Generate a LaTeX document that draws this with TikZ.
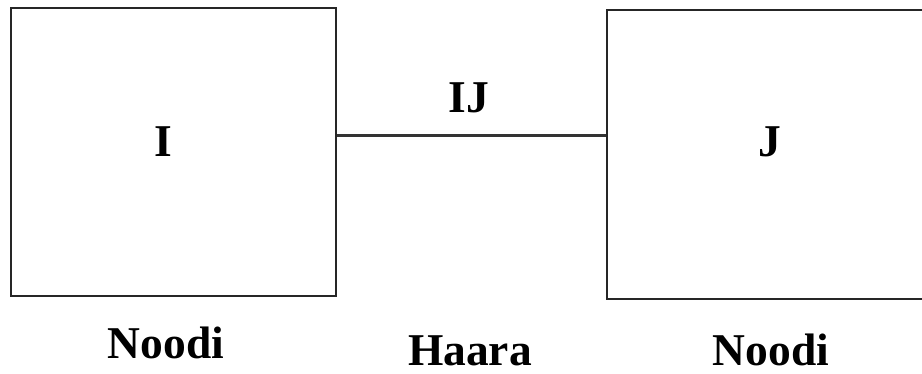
\documentclass[tikz,border=0pt]{standalone}
\usepackage{fontspec}
\setmainfont{Liberation Serif}
\begin{document}
\begin{tikzpicture}[x=1pt,y=-1pt,
  box/.style={draw=black!85, line width=2.4pt, inner sep=0pt, fill=white},
  lbl/.style={font=\fontsize{45.5}{50}\selectfont\bfseries, inner sep=0pt, anchor=base},
  link/.style={draw=black!80, line width=2.2pt}]
  \useasboundingbox[fill=white] (0,0) rectangle (922,373);
  % the two nodes
  \node[box, minimum width=325pt, minimum height=288pt] (L) at (173.5,152) {};
  \node[box, minimum width=340pt, minimum height=289pt] (R) at (777,154.5) {};
  % the branch between them
  \coordinate (ly) at (0,135.5);
  \draw[link] (L.east |- ly) -- (R.west |- ly);
  % labels
  \node[lbl] (tI) at (163,156.5) {I};
  \node[lbl] (tJ) at (770,156.5) {J};
  \node[lbl] (tIJ) at (469,112.5) {IJ};
  \node[lbl] (n1) at (166,358) {Noodi};
  \node[lbl] (h) at (470,365) {Haara};
  \node[lbl] (n2) at (771,365) {Noodi};
\end{tikzpicture}
\end{document}
